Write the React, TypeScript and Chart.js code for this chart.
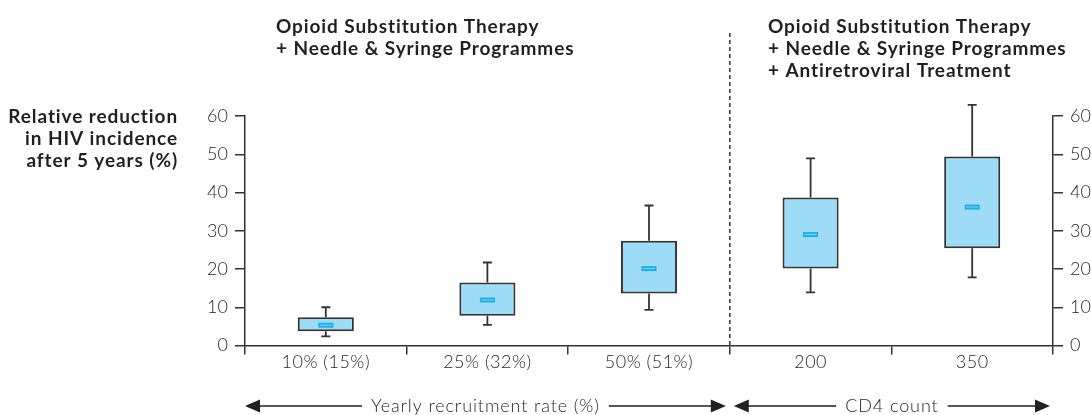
import React, { useEffect, useRef } from "react";
import { Chart, registerables } from "chart.js";

Chart.register(...registerables);

const categories = ["10% (15%)", "25% (32%)", "50% (51%)", "200", "350"];
const whiskerMin = [2.4, 5.4, 9.3, 13.9, 17.8];
const q1 = [3.7, 7.8, 13.6, 20.1, 25.4];
const median = [5.3, 11.9, 20.1, 29.0, 36.2];
const q3 = [7.4, 16.5, 27.4, 38.7, 49.4];
const whiskerMax = [10.0, 21.7, 36.6, 48.9, 62.9];
const yTicks = [0, 10, 20, 30, 40, 50, 60];

const leftTitle = ["Opioid Substitution Therapy", "+ Needle & Syringe Programmes"];
const rightTitle = [
  "Opioid Substitution Therapy",
  "+ Needle & Syringe Programmes",
  "+ Antiretroviral Treatment",
];
const yTitle = ["Relative reduction", "in HIV incidence", "after 5 years (%)"];
const leftArrowLabel = "Yearly recruitment rate (%)";
const rightArrowLabel = "CD4 count";

const TEXT = "#231f20";
const LINE = "#333333";
const FAMILY = "Lato, 'Open Sans', sans-serif";
const BOLD = "bold 19px " + FAMILY;
const LIGHT = "300 18px " + FAMILY;

function setSpacing(ctx: CanvasRenderingContext2D, v: string) {
  try {
    (ctx as any).letterSpacing = v;
  } catch (e) {}
}

function drawArrow(ctx: CanvasRenderingContext2D, x1: number, x2: number, y: number, label: string) {
  ctx.save();
  ctx.font = LIGHT;
  setSpacing(ctx, "0.9px");
  ctx.fillStyle = TEXT;
  ctx.strokeStyle = TEXT;
  ctx.lineWidth = 1.5;
  const mid = (x1 + x2) / 2;
  const w = ctx.measureText(label).width;
  const gap = 9;
  const head = 15;
  const hh = 6.5;
  ctx.beginPath();
  ctx.moveTo(x1 + head - 1, y);
  ctx.lineTo(mid - w / 2 - gap, y);
  ctx.moveTo(mid + w / 2 + gap, y);
  ctx.lineTo(x2 - head + 1, y);
  ctx.stroke();
  ctx.beginPath();
  ctx.moveTo(x1, y);
  ctx.lineTo(x1 + head, y - hh);
  ctx.lineTo(x1 + head, y + hh);
  ctx.closePath();
  ctx.fill();
  ctx.beginPath();
  ctx.moveTo(x2, y);
  ctx.lineTo(x2 - head, y - hh);
  ctx.lineTo(x2 - head, y + hh);
  ctx.closePath();
  ctx.fill();
  ctx.textAlign = "center";
  ctx.textBaseline = "middle";
  ctx.fillText(label, mid, y);
  setSpacing(ctx, "0px");
  ctx.restore();
}

const boxPlugin = {
  id: "boxDecor",
  beforeDatasetsDraw(chart: any) {
    const ctx = chart.ctx as CanvasRenderingContext2D;
    const x = chart.scales.x;
    const y = chart.scales.y;
    ctx.save();
    ctx.strokeStyle = LINE;
    ctx.lineWidth = 1.8;
    const cap = 4.5;
    for (let i = 0; i < categories.length; i++) {
      const cx = x.getPixelForValue(i);
      const yMin = y.getPixelForValue(whiskerMin[i]);
      const yMax = y.getPixelForValue(whiskerMax[i]);
      const yQ1 = y.getPixelForValue(q1[i]);
      const yQ3 = y.getPixelForValue(q3[i]);
      ctx.beginPath();
      ctx.moveTo(cx, yQ3);
      ctx.lineTo(cx, yMax);
      ctx.moveTo(cx - cap, yMax);
      ctx.lineTo(cx + cap, yMax);
      ctx.moveTo(cx, yQ1);
      ctx.lineTo(cx, yMin);
      ctx.moveTo(cx - cap, yMin);
      ctx.lineTo(cx + cap, yMin);
      ctx.stroke();
    }
    ctx.restore();
  },
  afterDatasetsDraw(chart: any) {
    const ctx = chart.ctx as CanvasRenderingContext2D;
    const x = chart.scales.x;
    const y = chart.scales.y;
    ctx.save();
    for (let i = 0; i < categories.length; i++) {
      const cx = x.getPixelForValue(i);
      const ym = y.getPixelForValue(median[i]);
      ctx.fillStyle = "#1eaee6";
      ctx.fillRect(cx - 7.5, ym - 2.5, 15, 5);
      ctx.fillStyle = "#7fd6f5";
      ctx.fillRect(cx - 6, ym - 0.5, 12, 1);
    }
    ctx.restore();
  },
  afterDraw(chart: any) {
    const ctx = chart.ctx as CanvasRenderingContext2D;
    const x = chart.scales.x;
    const area = chart.chartArea;
    const divX = (x.getPixelForValue(2) + x.getPixelForValue(3)) / 2;
    ctx.save();
    ctx.strokeStyle = LINE;
    ctx.lineWidth = 1.5;
    ctx.setLineDash([4, 3]);
    ctx.beginPath();
    ctx.moveTo(divX, 33);
    ctx.lineTo(divX, area.bottom);
    ctx.stroke();
    ctx.setLineDash([]);
    // category labels, centred on each category through the x scale
    ctx.fillStyle = TEXT;
    ctx.font = LIGHT;
    setSpacing(ctx, "0.5px");
    ctx.textAlign = "center";
    ctx.textBaseline = "middle";
    categories.forEach((c, i) => ctx.fillText(c, x.getPixelForValue(i), 362));
    // titles
    ctx.font = BOLD;
    setSpacing(ctx, "0.9px");
    ctx.textBaseline = "alphabetic";
    ctx.textAlign = "left";
    leftTitle.forEach((t, i) => ctx.fillText(t, 276, 33 + i * 22));
    rightTitle.forEach((t, i) => ctx.fillText(t, 768, 33 + i * 22));
    ctx.textAlign = "right";
    yTitle.forEach((t, i) => ctx.fillText(t, 178, 123 + i * 22));
    setSpacing(ctx, "0px");
    ctx.restore();
    drawArrow(ctx, area.left, divX - 4, 406, leftArrowLabel);
    drawArrow(ctx, divX + 4, area.right - 3, 406, rightArrowLabel);
  },
};

export default function App() {
  const ref = useRef<HTMLCanvasElement | null>(null);
  useEffect(() => {
    if (!ref.current) return;
    const tickFont = { family: FAMILY, size: 18, weight: "300" as any };
    const axisCommon = {
      min: 0,
      max: 60,
      afterBuildTicks: (s: any) => {
        s.ticks = yTicks.map((v) => ({ value: v }));
      },
      grid: {
        drawOnChartArea: false,
        drawTicks: true,
        tickLength: 10,
        color: LINE,
        lineWidth: 1.5,
      },
      border: { display: true, color: LINE, width: 1.5 },
      ticks: { color: TEXT, font: tickFont, padding: 7 },
    };
    const chart = new Chart(ref.current, {
      type: "bar",
      data: {
        labels: categories,
        datasets: [
          {
            data: q1.map((v, i) => [v, q3[i]]) as any,
            backgroundColor: "#9edbf6",
            borderColor: LINE,
            borderWidth: 2,
            borderSkipped: false,
            barPercentage: 0.347,
            categoryPercentage: 1,
          },
        ],
      },
      options: {
        animation: false,
        responsive: false,
        layout: { padding: { top: 116, left: 0, right: 0, bottom: 0 } },
        plugins: { legend: { display: false }, tooltip: { enabled: false } },
        scales: {
          x: {
            offset: true,
            grid: {
              offset: true,
              drawOnChartArea: false,
              drawTicks: true,
              tickLength: 9,
              color: LINE,
              lineWidth: 1.5,
            },
            border: { display: true, color: LINE, width: 1.5 },
            ticks: { display: false, autoSkip: false, maxRotation: 0 },
            afterFit: (s: any) => {
              s.height = 69.5;
            },
          },
          y: {
            ...axisCommon,
            position: "left",
            afterFit: (s: any) => {
              s.width = 245;
            },
          } as any,
          y2: {
            ...axisCommon,
            position: "right",
            afterFit: (s: any) => {
              s.width = 38;
            },
          } as any,
        },
      },
      plugins: [boxPlugin],
    });
    return () => chart.destroy();
  }, []);
  return (
    <div style={{ position: "fixed", left: 0, top: 0, width: 1091, height: 415, background: "#fff" }}>
      <canvas ref={ref} width={1091} height={415} />
    </div>
  );
}
